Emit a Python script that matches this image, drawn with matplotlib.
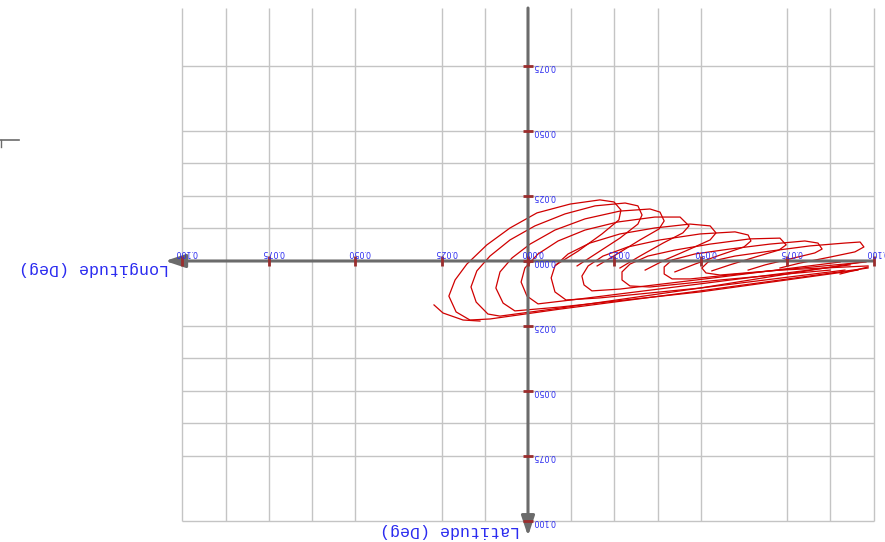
import matplotlib
matplotlib.use("Agg")
import matplotlib.pyplot as plt
from matplotlib.lines import Line2D

# ground track, one list per loop (deg)
track_lon = [
    [0.0272, 0.0246, 0.0188, 0.0139],
    [-0.0984, -0.0498, -0.0093, 0.0110, 0.0168, 0.0208, 0.0229, 0.0211, 0.0177, 0.0119,
     0.0052, -0.0026, -0.0122, -0.0208, -0.0249, -0.0269, -0.0263, -0.0214, -0.0145, -0.0081],
    [-0.0966, -0.0498, -0.0093, 0.0081, 0.0116, 0.0150, 0.0165, 0.0148, 0.0110, 0.0052,
     -0.0020, -0.0107, -0.0194, -0.0281, -0.0318, -0.0330, -0.0318, -0.0266, -0.0200, -0.0142],
    [-0.0955, -0.0498, -0.0093, 0.0038, 0.0072, 0.0093, 0.0081, 0.0046, -0.0006, -0.0078,
     -0.0165, -0.0266, -0.0353, -0.0382, -0.0394, -0.0379, -0.0324, -0.0258, -0.0200],
    [-0.0932, -0.0498, -0.0150, -0.0029, 0.0003, 0.0020, 0.0009, -0.0029, -0.0087, -0.0165,
     -0.0260, -0.0367, -0.0440, -0.0466, -0.0448, -0.0391, -0.0324, -0.0266],
    [-0.0917, -0.0498, -0.0208, -0.0110, -0.0078, -0.0067, -0.0078, -0.0116, -0.0179, -0.0266,
     -0.0367, -0.0469, -0.0527, -0.0544, -0.0527, -0.0469, -0.0396, -0.0339],
    [-0.0903, -0.0556, -0.0266, -0.0185, -0.0162, -0.0156, -0.0174, -0.0217, -0.0289, -0.0382,
     -0.0498, -0.0599, -0.0637, -0.0645, -0.0625, -0.0556, -0.0483, -0.0425],
    [-0.0874, -0.0556, -0.0353, -0.0295, -0.0272, -0.0272, -0.0295, -0.0347, -0.0425, -0.0527,
     -0.0642, -0.0729, -0.0747, -0.0726, -0.0657, -0.0584, -0.0532],
    [-0.0978, -0.0671, -0.0469, -0.0417, -0.0394, -0.0394, -0.0417, -0.0483, -0.0584, -0.0700,
     -0.0801, -0.0839, -0.0851, -0.0830, -0.0758, -0.0686, -0.0637],
    [-0.0984, -0.0729, -0.0556, -0.0515, -0.0503, -0.0521, -0.0599, -0.0700, -0.0816, -0.0917,
     -0.0961, -0.0972, -0.0946, -0.0874, -0.0787, -0.0729],
    [-0.0903, -0.0984],
]
track_lat = [
    [0.0169, 0.0200, 0.0227, 0.0231],
    [0.0027, 0.0115, 0.0185, 0.0223, 0.0227, 0.0196, 0.0135, 0.0073, 0.0012, -0.0062,
     -0.0127, -0.0185, -0.0219, -0.0235, -0.0227, -0.0196, -0.0158, -0.0104, -0.0038, 0.0015],
    [0.0004, 0.0104, 0.0181, 0.0212, 0.0204, 0.0158, 0.0100, 0.0038, -0.0019, -0.0081,
     -0.0135, -0.0181, -0.0212, -0.0223, -0.0212, -0.0177, -0.0142, -0.0088, -0.0031, 0.0019],
    [0.0035, 0.0119, 0.0177, 0.0192, 0.0162, 0.0104, 0.0042, -0.0012, -0.0065, -0.0119,
     -0.0162, -0.0192, -0.0200, -0.0188, -0.0154, -0.0123, -0.0081, -0.0027, 0.0019],
    [0.0015, 0.0088, 0.0146, 0.0165, 0.0135, 0.0081, 0.0027, -0.0027, -0.0077, -0.0119,
     -0.0150, -0.0169, -0.0169, -0.0135, -0.0108, -0.0069, -0.0019, 0.0027],
    [0.0035, 0.0104, 0.0142, 0.0150, 0.0119, 0.0065, 0.0019, -0.0027, -0.0069, -0.0104,
     -0.0127, -0.0142, -0.0135, -0.0108, -0.0081, -0.0046, -0.0004, 0.0035],
    [0.0004, 0.0062, 0.0108, 0.0115, 0.0092, 0.0058, 0.0019, -0.0019, -0.0054, -0.0081,
     -0.0104, -0.0112, -0.0100, -0.0077, -0.0054, -0.0023, 0.0012, 0.0042],
    [0.0035, 0.0073, 0.0100, 0.0096, 0.0073, 0.0042, 0.0012, -0.0019, -0.0042, -0.0065,
     -0.0085, -0.0088, -0.0062, -0.0042, -0.0015, 0.0015, 0.0038],
    [0.0004, 0.0042, 0.0069, 0.0069, 0.0050, 0.0023, -0.0004, -0.0027, -0.0046, -0.0065,
     -0.0077, -0.0069, -0.0046, -0.0031, -0.0008, 0.0015, 0.0035],
    [0.0019, 0.0035, 0.0054, 0.0046, 0.0027, 0.0004, -0.0019, -0.0038, -0.0058, -0.0069,
     -0.0073, -0.0054, -0.0035, -0.0015, 0.0008, 0.0027],
    [0.0050, 0.0023],
]

x_ticks = [0.1, 0.075, 0.05, 0.025, 0.0, -0.025, -0.05, -0.075, -0.1]
x_tick_labels = ["0.100", "0.075", "0.050", "0.025", "0.000", "0.025", "0.050", "0.075", "0.100"]
y_ticks = [-0.075, -0.05, -0.025, 0.0, 0.025, 0.05, 0.075, 0.1]
y_tick_labels = ["0.075", "0.050", "0.025", "0.000", "0.025", "0.050", "0.075", "0.100"]
grid_lon = [0.1, 0.0875, 0.075, 0.0625, 0.05, 0.025, 0.0125,
            -0.0125, -0.025, -0.0375, -0.05, -0.075, -0.0875, -0.1]
grid_lat = [-0.075, -0.05, -0.0375, -0.025, -0.0125,
            0.025, 0.0375, 0.05, 0.0625, 0.075, 0.1]

LINE_RED = "#d00000"
AXIS_GREY = "#6b6b6b"
TICK_RED = "#9b2d2d"
LABEL_BLUE = "#2b2bf0"

fig = plt.figure(figsize=(8.85, 5.42), dpi=100)
ax = fig.add_axes([0, 0, 1, 1])
ax.set_axis_off()
# the whole chart is shown turned half a turn
ax.set_xlim(0.15278, -0.10330)
ax.set_ylim(0.10808, -0.10038)

ax.vlines(grid_lon, -0.0973, 0.1, colors="#c4c4c4", lw=1, zorder=1)
ax.hlines(grid_lat, 0.1, -0.1, colors="#c4c4c4", lw=1, zorder=1)

for lon, lat in zip(track_lon, track_lat):
    ax.plot(lon, lat, color=LINE_RED, lw=0.9, zorder=2)

arrow = dict(arrowstyle="-|>,head_length=1.2,head_width=0.4", color=AXIS_GREY,
             lw=2.2, mutation_scale=10, shrinkA=0, shrinkB=0)
ax.annotate("", xy=(0.1050, 0), xytext=(-0.1, 0), arrowprops=arrow, zorder=3)
ax.annotate("", xy=(0, 0.1058), xytext=(0, -0.0973), arrowprops=arrow, zorder=3)

ax.plot(x_ticks, [0] * len(x_ticks), ls="none", marker="|", ms=7, mew=2,
        color=TICK_RED, zorder=4)
ax.plot([0] * len(y_ticks), y_ticks, ls="none", marker="_", ms=7, mew=2,
        color=TICK_RED, zorder=4)

for x, lab in zip(x_ticks, x_tick_labels):
    ax.text(x - 0.0012, -0.0033, lab, rotation=180, ha="center", va="center",
            fontsize=5.8, color=LABEL_BLUE, zorder=5)
for y, lab in zip(y_ticks, y_tick_labels):
    ax.text(-0.0046, y + 0.0003, lab, rotation=180, ha="center", va="center",
            fontsize=5.8, color=LABEL_BLUE, zorder=5)

ax.text(0.1256, 0.0027, "Longitude (Deg)", rotation=180, ha="center", va="center",
        fontsize=12, family="Liberation Mono", color=LABEL_BLUE)
ax.text(0.0226, 0.1035, "Latitude (Deg)", rotation=180, ha="center", va="center",
        fontsize=12, family="Liberation Mono", color=LABEL_BLUE)

# stray frame corner at the far left
fig.add_artist(Line2D([0, 0.0215], [0.7417, 0.7417], color=AXIS_GREY, lw=1.2))
fig.add_artist(Line2D([0.001, 0.001], [0.7417, 0.7288], color=AXIS_GREY, lw=1))

fig.savefig("out.png", dpi=100)
